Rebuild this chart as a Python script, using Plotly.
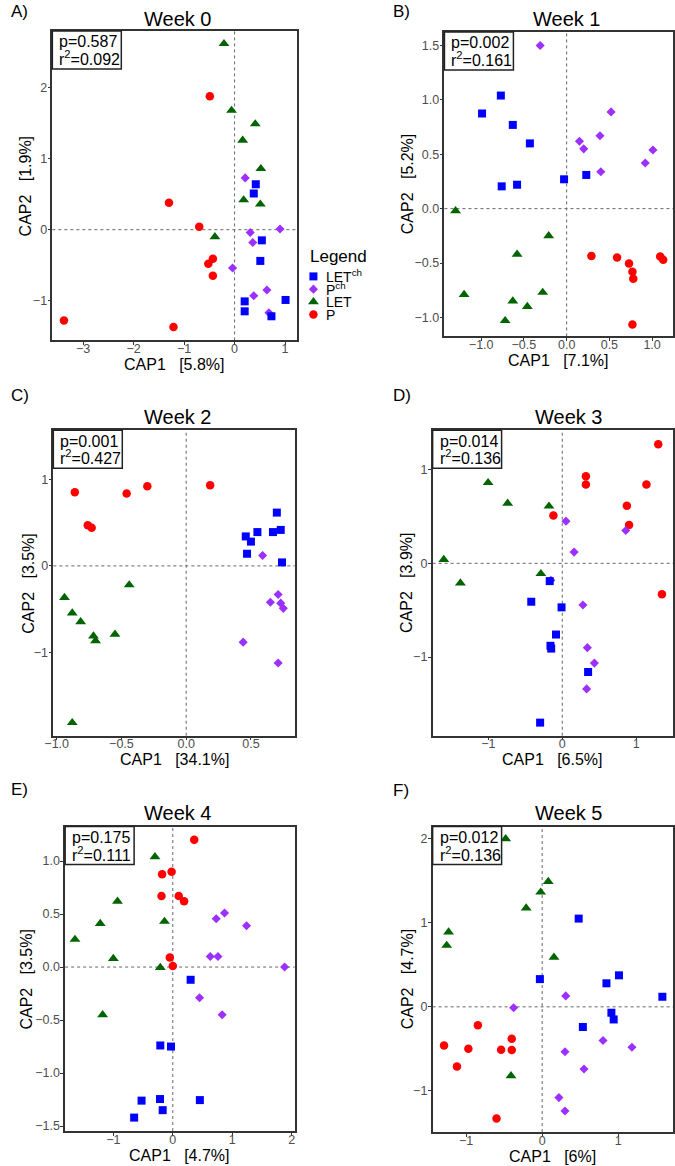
import plotly.graph_objects as go

W, H = 675, 1166

# ---------------- categories / labels ----------------
GROUPS = ["LETch", "Pch", "LET", "P"]
GROUP_LABELS = ["LET<sup>ch</sup>", "P<sup>ch</sup>", "LET", "P"]
COLORS = {"LETch": "#0000FF", "Pch": "#9B30FF", "LET": "#006400", "P": "#FF0000"}
SYMBOLS = {"LETch": "square", "Pch": "diamond", "LET": "triangle-up", "P": "circle"}
SIZES = {"LETch": 8, "Pch": 7, "LET": 9.5, "P": 8.5}

WEEKS = ["Week 0", "Week 1", "Week 2", "Week 3", "Week 4", "Week 5"]
PANEL_LETTERS = ["A)", "B)", "C)", "D)", "E)", "F)"]
P_VALUES = ["0.587", "0.002", "0.001", "0.014", "0.175", "0.012"]
R2_VALUES = ["0.092", "0.161", "0.427", "0.136", "0.111", "0.136"]
CAP1_PCT = ["5.8%", "7.1%", "34.1%", "6.5%", "4.7%", "6%"]
CAP2_PCT = ["1.9%", "5.2%", "3.5%", "3.9%", "3.5%", "4.7%"]

# ---------------- data: Week 0 ----------------
W0_LETCH_X = [0.42, 0.38, 0.54, 0.51, 0.20, 0.20, 0.73, 1.01]
W0_LETCH_Y = [0.64, 0.51, -0.15, -0.44, -1.01, -1.15, -1.22, -0.99]
W0_PCH_X = [0.21, 0.31, 0.90, 0.36, -0.04, 0.64, 0.38, 0.68]
W0_PCH_Y = [0.73, -0.04, 0.01, -0.18, -0.54, -0.85, -0.93, -1.17]
W0_LET_X = [-0.21, -0.06, 0.41, 0.16, 0.52, 0.18, 0.51, -0.39]
W0_LET_Y = [2.62, 1.68, 1.49, 1.26, 0.86, 0.42, 0.36, -0.10]
W0_P_X = [-0.49, -1.30, -0.70, -0.43, -0.52, -0.43, -3.38, -1.21]
W0_P_Y = [1.88, 0.38, 0.04, -0.41, -0.48, -0.65, -1.28, -1.37]

# ---------------- data: Week 1 ----------------
W1_LETCH_X = [-0.77, -0.99, -0.63, -0.43, -0.76, -0.58, -0.03, 0.23]
W1_LETCH_Y = [1.04, 0.875, 0.77, 0.60, 0.205, 0.22, 0.27, 0.31]
W1_PCH_X = [-0.31, 0.52, 0.39, 0.15, 0.20, 1.01, 0.92, 0.40]
W1_PCH_Y = [1.50, 0.89, 0.67, 0.62, 0.55, 0.54, 0.42, 0.34]
W1_LET_X = [-1.30, -0.21, -0.58, -1.20, -0.28, -0.63, -0.46, -0.72]
W1_LET_Y = [-0.02, -0.25, -0.42, -0.79, -0.77, -0.85, -0.90, -1.03]
W1_P_X = [0.29, 0.59, 0.73, 0.77, 0.78, 1.095, 1.13, 0.77]
W1_P_Y = [-0.435, -0.45, -0.505, -0.58, -0.645, -0.44, -0.47, -1.065]

# ---------------- data: Week 2 ----------------
W2_LETCH_X = [0.70, 0.46, 0.50, 0.55, 0.67, 0.73, 0.47, 0.74]
W2_LETCH_Y = [0.615, 0.34, 0.28, 0.39, 0.39, 0.415, 0.14, 0.04]
W2_PCH_X = [0.59, 0.71, 0.65, 0.73, 0.75, 0.44, 0.71]
W2_PCH_Y = [0.12, -0.33, -0.42, -0.43, -0.49, -0.88, -1.12]
W2_LET_X = [-0.44, -0.94, -0.88, -0.815, -0.716, -0.70, -0.55, -0.88]
W2_LET_Y = [-0.22, -0.365, -0.545, -0.645, -0.81, -0.865, -0.79, -1.81]
W2_P_X = [-0.86, -0.46, -0.30, 0.185, -0.76, -0.73]
W2_P_Y = [0.85, 0.835, 0.92, 0.93, 0.47, 0.44]

# ---------------- data: Week 3 ----------------
W3_LETCH_X = [-0.17, -0.42, -0.01, -0.085, -0.16, -0.15, 0.35, -0.30]
W3_LETCH_Y = [-0.19, -0.41, -0.47, -0.76, -0.88, -0.91, -1.16, -1.70]
W3_PCH_X = [0.05, 0.16, 0.86, -0.155, 0.28, 0.34, 0.435, 0.33]
W3_PCH_Y = [0.45, 0.12, 0.35, -0.18, -0.445, -0.90, -1.065, -1.34]
W3_LET_X = [-1.005, -0.74, -0.18, -1.605, -1.38, -0.29]
W3_LET_Y = [0.86, 0.64, 0.61, 0.04, -0.21, -0.11]
W3_P_X = [1.30, 0.32, 0.32, 1.14, 0.875, 0.905, -0.12, 1.35]
W3_P_Y = [1.27, 0.93, 0.84, 0.84, 0.615, 0.41, 0.51, -0.33]

# ---------------- data: Week 4 ----------------
W4_LETCH_X = [0.30, -0.21, -0.03, -0.215, -0.525, 0.455, -0.17, -0.65]
W4_LETCH_Y = [-0.12, -0.74, -0.75, -1.245, -1.26, -1.255, -1.35, -1.42]
W4_PCH_X = [0.87, 0.73, 1.24, 0.63, 0.76, 1.88, 0.45, 0.83]
W4_PCH_Y = [0.51, 0.455, 0.39, 0.10, 0.10, 0.00, -0.29, -0.45]
W4_LET_X = [-0.30, -0.93, -1.22, -0.14, -1.645, -1.00, -0.21, -1.18]
W4_LET_Y = [1.04, 0.62, 0.41, 0.43, 0.26, 0.08, -0.005, -0.45]
W4_P_X = [0.36, -0.02, -0.18, -0.19, 0.10, 0.19, -0.05, 0.00]
W4_P_Y = [1.20, 0.90, 0.875, 0.67, 0.67, 0.62, 0.09, 0.01]

# ---------------- data: Week 5 ----------------
W5_LETCH_X = [0.48, -0.03, 1.01, 0.845, 1.58, 0.91, 0.94, 0.535]
W5_LETCH_Y = [1.05, 0.33, 0.375, 0.28, 0.12, -0.07, -0.15, -0.24]
W5_PCH_X = [0.31, -0.375, 0.80, 1.18, 0.30, 0.55, 0.22, 0.30]
W5_PCH_Y = [0.13, -0.01, -0.40, -0.48, -0.535, -0.74, -1.08, -1.24]
W5_LET_X = [-0.48, 0.08, -0.02, -0.21, -1.23, -1.255, 0.155, -0.41]
W5_LET_Y = [2.00, 1.49, 1.365, 1.175, 0.89, 0.73, 0.59, -0.82]
W5_P_X = [-0.845, -0.40, -1.29, -0.97, -0.54, -0.40, -1.12, -0.60]
W5_P_Y = [-0.22, -0.38, -0.46, -0.50, -0.51, -0.515, -0.71, -1.33]

DATA = [
    {"LETch": (W0_LETCH_X, W0_LETCH_Y), "Pch": (W0_PCH_X, W0_PCH_Y), "LET": (W0_LET_X, W0_LET_Y), "P": (W0_P_X, W0_P_Y)},
    {"LETch": (W1_LETCH_X, W1_LETCH_Y), "Pch": (W1_PCH_X, W1_PCH_Y), "LET": (W1_LET_X, W1_LET_Y), "P": (W1_P_X, W1_P_Y)},
    {"LETch": (W2_LETCH_X, W2_LETCH_Y), "Pch": (W2_PCH_X, W2_PCH_Y), "LET": (W2_LET_X, W2_LET_Y), "P": (W2_P_X, W2_P_Y)},
    {"LETch": (W3_LETCH_X, W3_LETCH_Y), "Pch": (W3_PCH_X, W3_PCH_Y), "LET": (W3_LET_X, W3_LET_Y), "P": (W3_P_X, W3_P_Y)},
    {"LETch": (W4_LETCH_X, W4_LETCH_Y), "Pch": (W4_PCH_X, W4_PCH_Y), "LET": (W4_LET_X, W4_LET_Y), "P": (W4_P_X, W4_P_Y)},
    {"LETch": (W5_LETCH_X, W5_LETCH_Y), "Pch": (W5_PCH_X, W5_PCH_Y), "LET": (W5_LET_X, W5_LET_Y), "P": (W5_P_X, W5_P_Y)},
]

# ---------------- layout (pixel geometry) ----------------
# plot boxes: left, top, right, bottom (px)
BOXES = [(44, 31, 292, 341), (442, 32, 674, 337),
         (45, 431, 290, 737), (430, 431, 674, 737),
         (57, 828, 290, 1133), (430, 828, 674, 1134)]
XRANGES = [(-3.61, 1.23), (-1.43, 1.245), (-1.026, 0.838),
           (-1.756, 1.50), (-1.81, 2.05), (-1.44, 1.72)]
YRANGES = [(-1.56, 2.80), (-1.175, 1.625), (-1.96, 1.565),
           (-1.84, 1.42), (-1.547, 1.325), (-1.49, 2.145)]
XDTICK = [1, 0.5, 0.5, 1, 1, 1]
YDTICK = [1, 0.5, 1, 1, 0.5, 1]
XFMT = ["d", ".1f", ".1f", "d", "d", "d"]
YFMT = ["d", ".1f", "d", "d", ".1f", "d"]
TITLE_POS = [(171, 19), (566, 19), (171, 418), (568, 418), (171, 814), (568, 814)]
LETTER_POS = [(0, 12), (388, 12), (0, 396), (388, 396), (0, 791), (388, 792)]
CAP2_X = [17, 404, 20, 404, 18, 404]
PBOX_W, PBOX_H = 70, 38

FONT = "Liberation Sans, Arial, Helvetica, sans-serif"
NB = "\u00a0"


def px_x(x):
    return x / W


def px_y(y):
    return 1 - y / H


fig = go.Figure()
annotations = []
shapes = []
layout_axes = {}

for i in range(6):
    k = i + 1
    xa = "x" if k == 1 else f"x{k}"
    ya = "y" if k == 1 else f"y{k}"
    xname = "xaxis" if k == 1 else f"xaxis{k}"
    yname = "yaxis" if k == 1 else f"yaxis{k}"
    L, T, R, B = BOXES[i]
    pw, ph = R - L, B - T

    # zero reference lines
    shapes.append(dict(type="line", xref=xa, yref=f"{ya} domain", x0=0, x1=0, y0=0, y1=1,
                       line=dict(color="#666666", width=1, dash="dot"), layer="below"))
    shapes.append(dict(type="line", xref=f"{xa} domain", yref=ya, x0=0, x1=1, y0=0, y1=0,
                       line=dict(color="#666666", width=1, dash="dot"), layer="below"))

    for g in ["P", "LET", "Pch", "LETch"]:
        xs, ys = DATA[i][g]
        fig.add_trace(go.Scatter(
            x=xs, y=ys, mode="markers", xaxis=xa, yaxis=ya, showlegend=False,
            marker=dict(symbol=SYMBOLS[g], color=COLORS[g], size=SIZES[g], line=dict(width=0)),
            name=g, cliponaxis=False))

    axis_common = dict(showline=True, mirror=True, linecolor="#333333", linewidth=1.5,
                       ticks="outside", ticklen=3, tickcolor="#333333", tickwidth=1,
                       showgrid=False, zeroline=False,
                       tickfont=dict(family=FONT, size=12.5, color="#4D4D4D"))
    layout_axes[xname] = dict(axis_common, domain=[px_x(L), px_x(R)], range=list(XRANGES[i]),
                              anchor=ya, dtick=XDTICK[i], tick0=0, tickformat=XFMT[i],
                              ticklabelstandoff=-7)
    layout_axes[yname] = dict(axis_common, domain=[px_y(B), px_y(T)], range=list(YRANGES[i]),
                              anchor=xa, dtick=YDTICK[i], tick0=0, tickformat=YFMT[i],
                              ticklabelstandoff=-2)

    # p / r2 box
    shapes.append(dict(type="rect", xref=f"{xa} domain", yref=f"{ya} domain",
                       x0=0, x1=PBOX_W / pw, y0=1 - PBOX_H / ph, y1=1,
                       line=dict(color="#222222", width=1.5), fillcolor="white", layer="above"))
    annotations.append(dict(xref="paper", yref="paper", x=px_x(L + 5), y=px_y(T + 11),
                            xanchor="left", yanchor="middle", showarrow=False,
                            text=f"p={P_VALUES[i]}", font=dict(family=FONT, size=16, color="black")))
    annotations.append(dict(xref="paper", yref="paper", x=px_x(L + 5), y=px_y(T + 27),
                            xanchor="left", yanchor="middle", showarrow=False,
                            text=f"r<sup>2</sup>={R2_VALUES[i]}", font=dict(family=FONT, size=16, color="black")))

    # titles
    tx, ty = TITLE_POS[i]
    annotations.append(dict(xref="paper", yref="paper", x=px_x(tx), y=px_y(ty),
                            xanchor="center", yanchor="middle", showarrow=False,
                            text=WEEKS[i], font=dict(family=FONT, size=20, color="black")))
    lx, ly = LETTER_POS[i]
    annotations.append(dict(xref="paper", yref="paper", x=px_x(lx), y=px_y(ly),
                            xanchor="left", yanchor="middle", showarrow=False,
                            text=PANEL_LETTERS[i], font=dict(family=FONT, size=17, color="black")))
    # axis titles
    annotations.append(dict(xref="paper", yref="paper", x=px_x((L + R) / 2), y=px_y(B + 24),
                            xanchor="center", yanchor="middle", showarrow=False,
                            text=f"CAP1{NB*3}[{CAP1_PCT[i]}]", font=dict(family=FONT, size=16, color="black")))
    annotations.append(dict(xref="paper", yref="paper", x=px_x(CAP2_X[i]), y=px_y((T + B) / 2),
                            xanchor="center", yanchor="middle", showarrow=False, textangle=-90,
                            text=f"CAP2{NB*3}[{CAP2_PCT[i]}]", font=dict(family=FONT, size=16, color="black")))

# ---------------- manual legend ----------------
LEG_L, LEG_R, LEG_T, LEG_B = 300, 340, 270.5, 321.5
layout_axes["xaxis7"] = dict(domain=[px_x(LEG_L), px_x(LEG_R)], range=[0, 1], visible=False,
                             anchor="y7", fixedrange=True)
layout_axes["yaxis7"] = dict(domain=[px_y(LEG_B), px_y(LEG_T)], range=[len(GROUPS) - 0.5, -0.5],
                             visible=False, anchor="x7", fixedrange=True)
LEG_MARK_X = 0.225
LEG_TEXT_X = 0.5
for j, g in enumerate(GROUPS):
    fig.add_trace(go.Scatter(x=[LEG_MARK_X], y=[j], mode="markers", xaxis="x7", yaxis="y7",
                             showlegend=False, cliponaxis=False,
                             marker=dict(symbol=SYMBOLS[g], color=COLORS[g], size=SIZES[g], line=dict(width=0))))
    annotations.append(dict(xref="x7", yref="y7", x=LEG_TEXT_X, y=j, xanchor="left", yanchor="middle",
                            showarrow=False, text=GROUP_LABELS[j],
                            font=dict(family=FONT, size=14, color="black")))
annotations.append(dict(xref="paper", yref="paper", x=px_x(303), y=px_y(257), xanchor="left",
                        yanchor="middle", showarrow=False, text="Legend",
                        font=dict(family=FONT, size=17, color="black")))

fig.update_layout(width=W, height=H, margin=dict(l=0, r=0, t=0, b=0),
                  plot_bgcolor="white", paper_bgcolor="white",
                  annotations=annotations, shapes=shapes, showlegend=False,
                  font=dict(family=FONT), **layout_axes)

fig.write_html("out.html", config={"displayModeBar": False},
               post_script="document.body.style.margin='0px';")
